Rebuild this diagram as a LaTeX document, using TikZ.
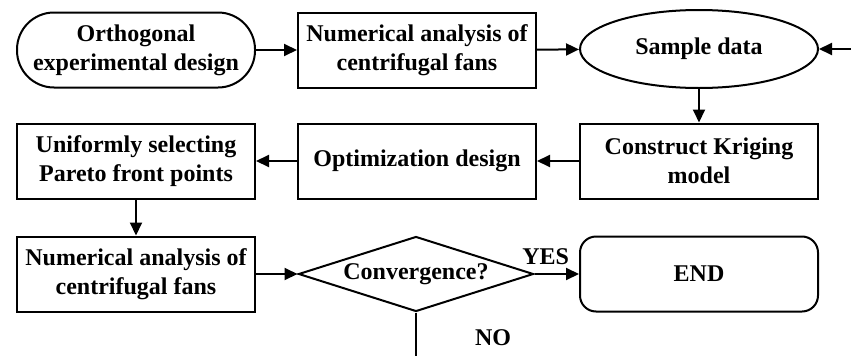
\documentclass[tikz,border=0pt]{standalone}
\usepackage{fontspec}
\setmainfont{Liberation Serif}
\usetikzlibrary{shapes.geometric,arrows.meta,positioning,calc}

\begin{document}
\begin{tikzpicture}[x=1pt,y=-1pt,
  font=\fontsize{24}{29}\selectfont\bfseries,
  line width=2pt,
  procbox/.style={draw,rectangle,minimum width=238pt,minimum height=75pt,align=center,inner sep=0pt},
  termbox/.style={procbox,rounded corners=37pt},
  endbox/.style={procbox,rounded corners=16pt},
  databox/.style={draw,ellipse,minimum width=238pt,minimum height=78pt,inner sep=0pt},
  decbox/.style={draw,diamond,aspect=3.13,minimum width=235pt,minimum height=75pt,inner sep=0pt},
  flow/.style={-{Triangle[length=13pt,width=12pt]}}]
  % kriging surrogate loop for the centrifugal fan
  \useasboundingbox (0,0) rectangle (851,356);
  \node[termbox] (ortho) at (136,50) {Orthogonal\\experimental design};
  \node[procbox] (num1) at (417,50) {Numerical analysis of\\centrifugal fans};
  \node[databox] (sample) at (699,49) {Sample data};
  \node[procbox] (krig) at (699,161) {Construct Kriging\\model};
  \node[procbox] (opt) at (417,161) {Optimization design};
  \node[procbox] (pareto) at (136,161) {Uniformly selecting\\Pareto front points};
  \node[procbox] (num2) at (136,274) {Numerical analysis of\\centrifugal fans};
  \node[decbox] (conv) at (416,274) {Convergence?};
  \node[endbox] (fin) at (699,274) {END};
  \coordinate (loopin) at (851,49);
  \coordinate (loopout) at (416,356);
  \draw[flow] (ortho) -- (num1);
  \draw[flow] (num1) -- (sample);
  \draw[flow] (loopin) -- (sample);
  \draw[flow] (sample) -- (krig);
  \draw[flow] (krig) -- (opt);
  \draw[flow] (opt) -- (pareto);
  \draw[flow] (pareto) -- (num2);
  \draw[flow] (num2) -- (conv);
  \draw[flow] (conv) -- node[pos=0.25,above=5pt] {YES} (fin);
  \draw (conv) -- (loopout) node[pos=0.57,xshift=77pt] {NO};
\end{tikzpicture}
\end{document}
